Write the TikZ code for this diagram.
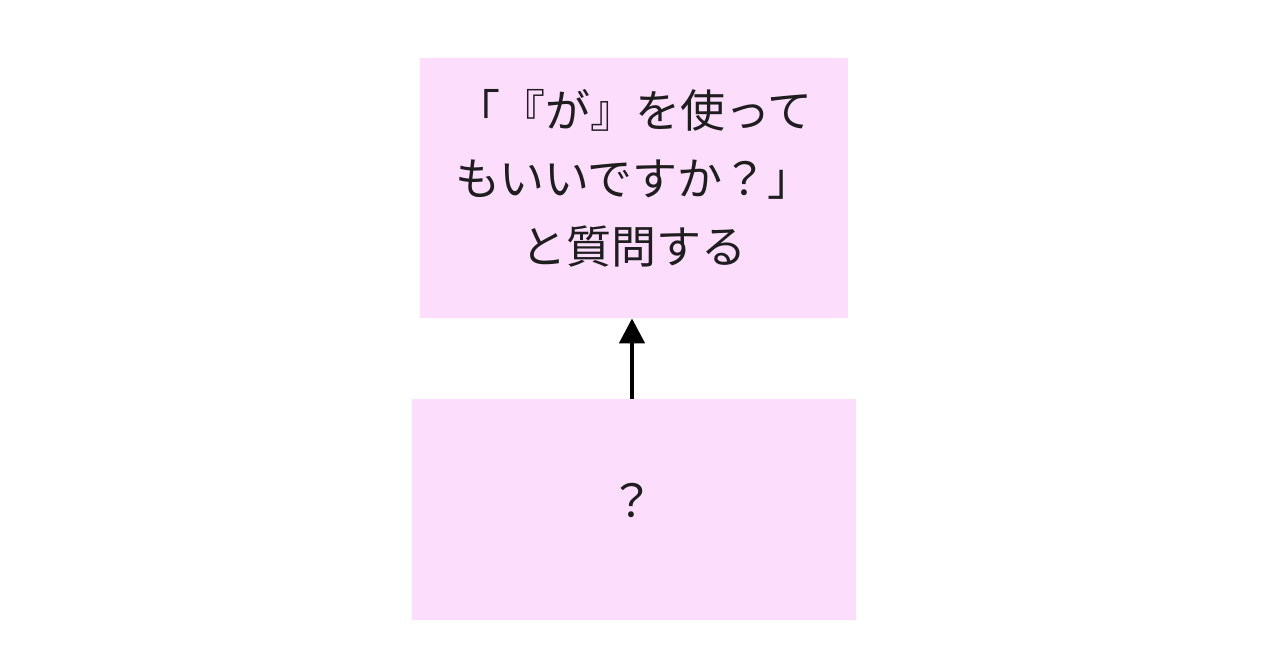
\documentclass[tikz,border=0pt]{standalone}
\usepackage{fontspec}
\newfontfamily\cjk{Noto Sans CJK JP}
\usetikzlibrary{arrows.meta}
\definecolor{boxpink}{HTML}{FCDDFC}
\definecolor{ink}{HTML}{1E1E1E}
\begin{document}
\begin{tikzpicture}[x=0.5pt,y=-0.5pt,
  pinkbox/.style={fill=boxpink,draw=none,inner sep=0pt},
  boxtext/.style={font=\cjk\fontsize{22.5pt}{34pt}\selectfont,text=ink,align=center},
  arrowline/.style={line width=2.3pt,-{Triangle[length=12.5pt,width=12.5pt]}}]
\useasboundingbox (0,0) rectangle (1280,669);
\fill[white] (0,0) rectangle (1280,669);
\node[pinkbox,minimum width=214pt,minimum height=130pt] (top) at (634,188) {};
\node[pinkbox,minimum width=222pt,minimum height=110.5pt] (bot) at (634,509.5) {};
\node[boxtext] (toptext) at (634,178) {「『が』を使って\\もいいですか？」\\と質問する};
\node[boxtext] (bottext) at (632,500) {？};
\draw[arrowline] (bot.north -| 632,0) -- (top.south -| 632,0);
\end{tikzpicture}
\end{document}
